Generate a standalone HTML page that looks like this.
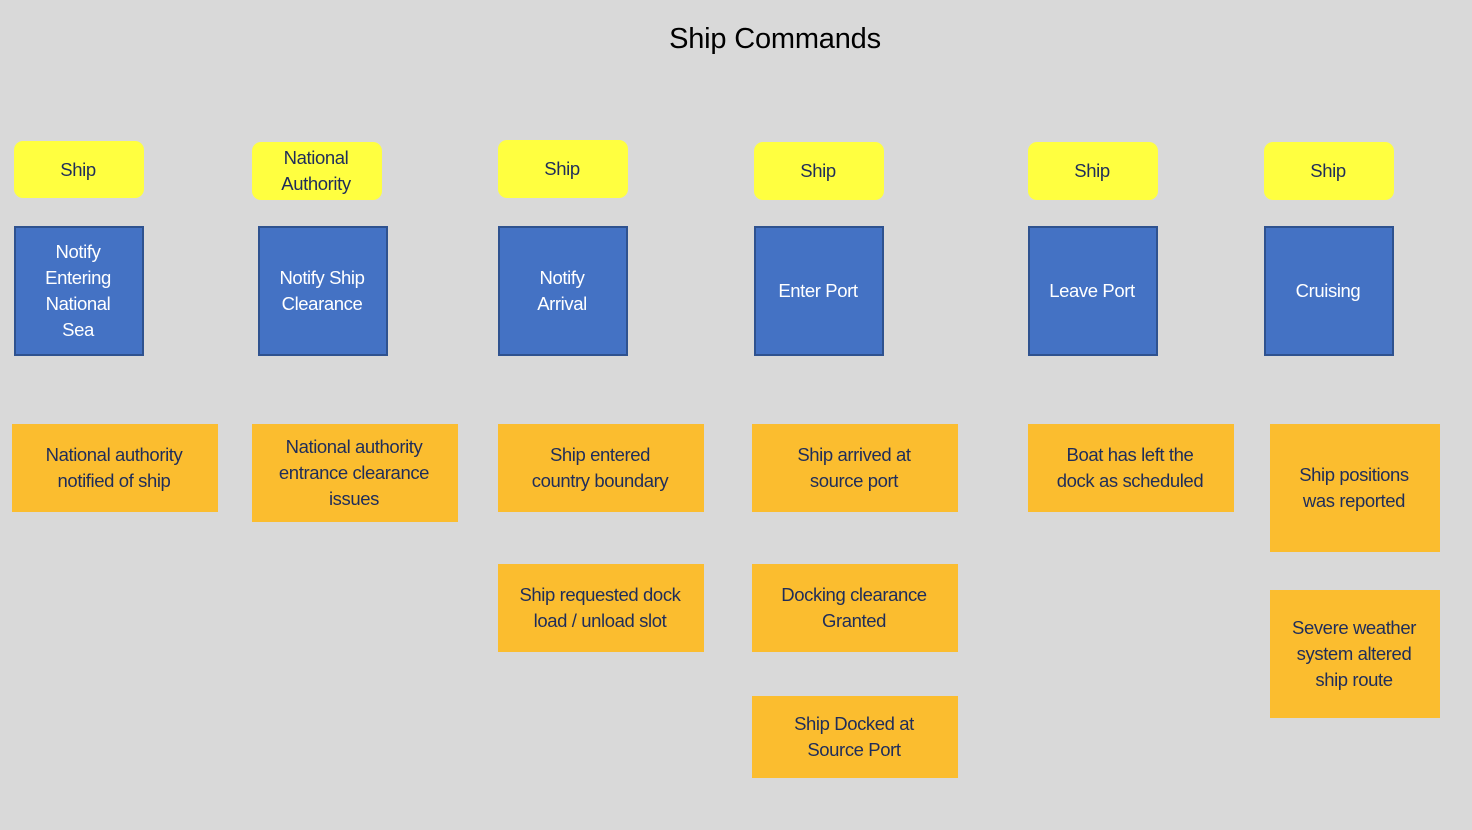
<!DOCTYPE html>
<html><head><style>
body{margin:0;width:1472px;height:830px;background:#d9d9d9;position:relative;overflow:hidden;font-family:"Liberation Sans",sans-serif;}
.b{position:absolute;display:flex;align-items:center;justify-content:center;text-align:center;box-sizing:border-box;font-size:18.5px;line-height:26px;color:#1f2d5a;letter-spacing:-0.4px;padding-right:2px;}
.y{background:#ffff40;border-radius:9px;}
.u{background:#4472c4;border:2px solid #2f528f;color:#fff;}
.o{background:#fbbd2f;}
.t{position:absolute;left:0;width:1550px;top:23px;text-align:center;font-size:29px;color:#000;letter-spacing:-0.2px;}
</style></head><body>
<div class="t">Ship Commands</div>
<div class="b y" style="left:14px;top:141px;width:130px;height:57px">Ship</div>
<div class="b y" style="left:252px;top:142px;width:130px;height:58px">National<br>Authority</div>
<div class="b y" style="left:498px;top:140px;width:130px;height:58px">Ship</div>
<div class="b y" style="left:754px;top:142px;width:130px;height:58px">Ship</div>
<div class="b y" style="left:1028px;top:142px;width:130px;height:58px">Ship</div>
<div class="b y" style="left:1264px;top:142px;width:130px;height:58px">Ship</div>

<div class="b u" style="left:14px;top:226px;width:130px;height:130px">Notify<br>Entering<br>National<br>Sea</div>
<div class="b u" style="left:258px;top:226px;width:130px;height:130px">Notify Ship<br>Clearance</div>
<div class="b u" style="left:498px;top:226px;width:130px;height:130px">Notify<br>Arrival</div>
<div class="b u" style="left:754px;top:226px;width:130px;height:130px">Enter Port</div>
<div class="b u" style="left:1028px;top:226px;width:130px;height:130px">Leave Port</div>
<div class="b u" style="left:1264px;top:226px;width:130px;height:130px">Cruising</div>

<div class="b o" style="left:12px;top:424px;width:206px;height:88px">National authority<br>notified of ship</div>
<div class="b o" style="left:252px;top:424px;width:206px;height:98px">National authority<br>entrance clearance<br>issues</div>
<div class="b o" style="left:498px;top:424px;width:206px;height:88px">Ship entered<br>country boundary</div>
<div class="b o" style="left:752px;top:424px;width:206px;height:88px">Ship arrived at<br>source port</div>
<div class="b o" style="left:1028px;top:424px;width:206px;height:88px">Boat has left the<br>dock as scheduled</div>
<div class="b o" style="left:1270px;top:424px;width:170px;height:128px">Ship positions<br>was reported</div>
<div class="b o" style="left:498px;top:564px;width:206px;height:88px">Ship requested dock<br>load / unload slot</div>
<div class="b o" style="left:752px;top:564px;width:206px;height:88px">Docking clearance<br>Granted</div>
<div class="b o" style="left:752px;top:696px;width:206px;height:82px">Ship Docked at<br>Source Port</div>
<div class="b o" style="left:1270px;top:590px;width:170px;height:128px">Severe weather<br>system altered<br>ship route</div>
</body></html>
